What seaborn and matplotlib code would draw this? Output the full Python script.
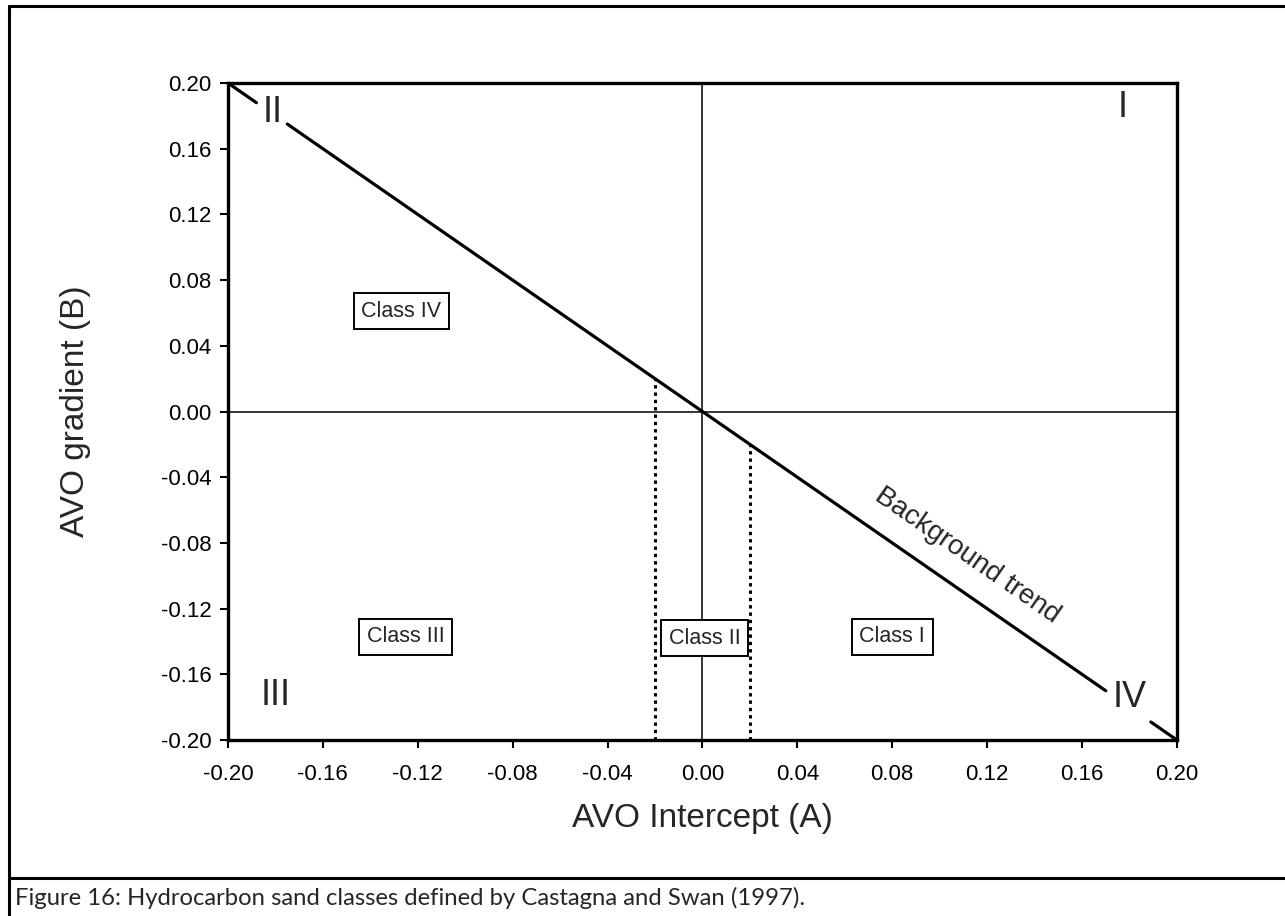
import matplotlib
matplotlib.use("Agg")
import matplotlib.pyplot as plt
from matplotlib.lines import Line2D
import seaborn as sns
import pandas as pd

# Axis ticks
tick_values = [-0.20, -0.16, -0.12, -0.08, -0.04, 0.00, 0.04, 0.08, 0.12, 0.16, 0.20]
tick_labels = ["-0.20", "-0.16", "-0.12", "-0.08", "-0.04", "0.00",
               "0.04", "0.08", "0.12", "0.16", "0.20"]

# Background trend B = -A, broken where the quadrant numerals sit
trend_A_start = [-0.20, -0.175, 0.189]
trend_A_end = [-0.188, 0.170, 0.20]

# Class II limits (dotted verticals) down to the bottom of the plot
class2_A = [-0.02, 0.02]

# Class labels
class_names = ["Class IV", "Class III", "Class II", "Class I"]
class_A = [-0.127, -0.125, 0.001, 0.080]
class_B = [0.061, -0.137, -0.138, -0.137]

# Quadrant numerals
quad_names = ["I", "II", "III", "IV"]
quad_A = [0.177, -0.181, -0.180, 0.180]
quad_B = [0.185, 0.182, -0.173, -0.174]

sns.set_theme(style="ticks")
plt.rcParams["font.family"] = ["Liberation Sans", "DejaVu Sans"]

fig = plt.figure(figsize=(12.85, 9.16), dpi=100)
ax = fig.add_axes([0.1774, 0.1921, 0.7385, 0.7173])

# Zero axes
ax.axhline(0, color="black", lw=1.1, zorder=1)
ax.axvline(0, color="black", lw=1.1, zorder=1)

# Background trend segments
for a0, a1 in zip(trend_A_start, trend_A_end):
    seg = pd.DataFrame({"A": [a0, a1], "B": [-a0, -a1]})
    sns.lineplot(data=seg, x="A", y="B", ax=ax, color="black", lw=2.3,
                 estimator=None, sort=False, zorder=2)

# Dotted Class II boundaries
for a in class2_A:
    seg = pd.DataFrame({"A": [a, a], "B": [-0.20, -a]})
    sns.lineplot(data=seg, x="A", y="B", ax=ax, color="black", lw=2.2,
                 estimator=None, sort=False, zorder=2, dashes=False)
    ax.lines[-1].set_linestyle((0, (1.1, 1.3)))

# Class labels in boxes
for name, a, b in zip(class_names, class_A, class_B):
    ax.text(a, b, name, ha="center", va="center", fontsize=15.5, zorder=5,
            bbox=dict(boxstyle="square,pad=0.35", fc="white", ec="black", lw=1.4))

# Quadrant numerals
for name, a, b in zip(quad_names, quad_A, quad_B):
    ax.text(a, b, name, ha="center", va="center", fontsize=26, zorder=5)

# Background trend label
ax.text(0.1115, -0.0878, "Background trend", ha="center", va="center",
        fontsize=20, rotation=-34.7, rotation_mode="anchor", zorder=5)

ax.set_xlim(-0.20, 0.20)
ax.set_ylim(-0.20, 0.20)
ax.set_xticks(tick_values)
ax.set_xticklabels(tick_labels)
ax.set_yticks(tick_values)
ax.set_yticklabels(tick_labels)
ax.tick_params(axis="both", direction="out", length=6, width=1.5,
               labelsize=16, colors="black", pad=6)
ax.tick_params(axis="x", pad=11)
for s in ax.spines.values():
    s.set_linewidth(2.4)
    s.set_color("black")
    s.set_visible(True)
ax.set_facecolor("white")
ax.grid(False)

ax.set_xlabel("AVO Intercept (A)", fontsize=24, labelpad=13)
ax.set_ylabel("AVO gradient (B)", fontsize=24, labelpad=50)

# Page frame around figure and caption
W, H = 1285, 916
def fx(px):
    return px / W
def fy(py):
    return 1 - py / H
frame_kw = dict(color="black", lw=2.2, transform=fig.transFigure)
fig.add_artist(Line2D([fx(9), fx(9)], [fy(6), fy(916)], **frame_kw))
fig.add_artist(Line2D([fx(9), fx(1285)], [fy(6), fy(6)], **frame_kw))
fig.add_artist(Line2D([fx(9), fx(1285)], [fy(878), fy(878)], **frame_kw))

fig.text(fx(15), fy(898), "Figure 16: Hydrocarbon sand classes defined by Castagna and Swan (1997).",
         ha="left", va="center", fontsize=17.2, family=["Lato", "DejaVu Sans"])

fig.savefig("out.png", dpi=100, facecolor="white")
